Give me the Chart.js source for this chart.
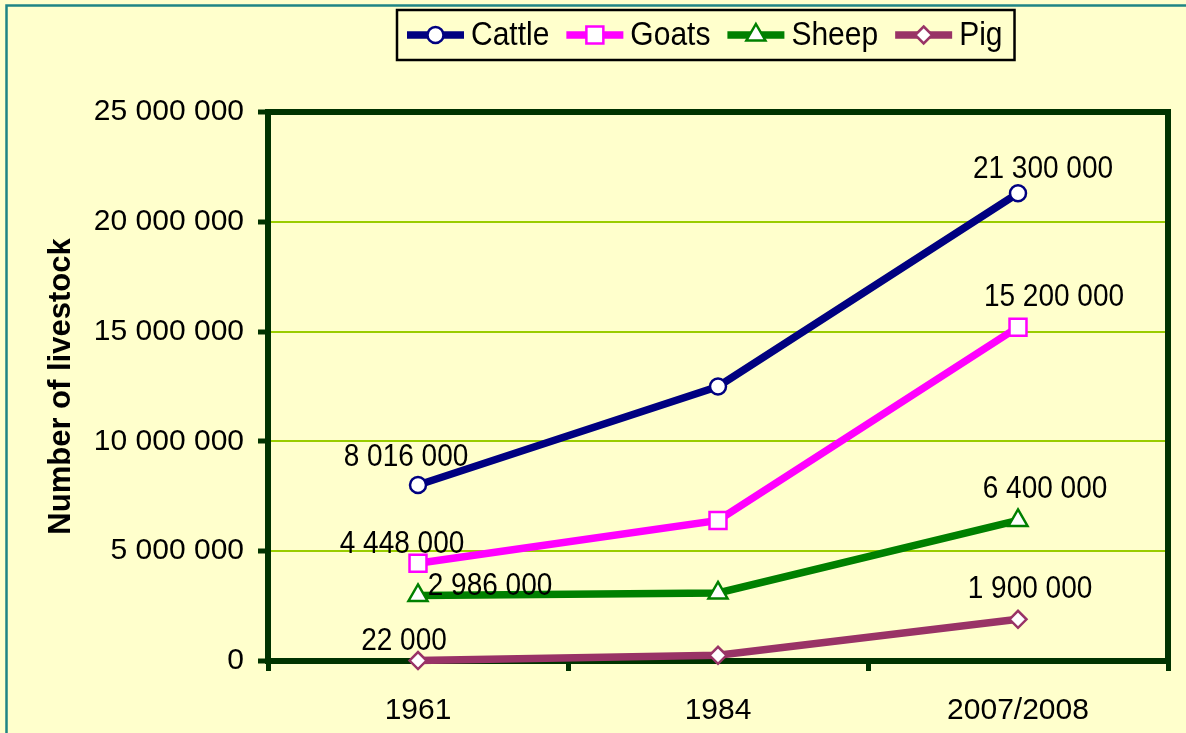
<!DOCTYPE html>
<html>
<head>
<meta charset="utf-8">
<script src="https://cdn.jsdelivr.net/npm/chart.js@4/dist/chart.umd.min.js"></script>
<style>
  html, body { margin: 0; padding: 0; background: #FFFFCC; }
  canvas { display: block; }
</style>
</head>
<body>
<canvas id="livestock-chart" width="1186" height="733"></canvas>
<script>
// values
const years = ['1961', '1984', '2007/2008'];
const cattle = [8016000, 12500000, 21300000];
const goats = [4448000, 6400000, 15200000];
const sheep = [2986000, 3100000, 6400000];
const pig = [22000, 260000, 1900000];
const yTicks = [0, 5000000, 10000000, 15000000, 20000000, 25000000];
const yTitle = 'Number of livestock';

const FONT = '"Liberation Sans", Arial, sans-serif';

// where each value label sits relative to its point: [first, last] as [dx, dy]
const labelOffsets = [
    [[-12, -27], [25, -24]],
    [[-16, -19], [36, -30]],
    [[72, -9], [27, -31]],
    [[-14, -19], [12, -30]]
];

function fmt(n) {
    return String(n).replace(/\B(?=(\d{3})+(?!\d))/g, ' ');
}

function marker(ctx, style, x, y, r, color) {
    ctx.save();
    ctx.fillStyle = '#ffffff';
    ctx.strokeStyle = color;
    ctx.lineWidth = 2.5;
    ctx.beginPath();
    if (style === 'circle') {
        ctx.arc(x, y, r, 0, Math.PI * 2);
    } else if (style === 'rect') {
        const s = r * Math.SQRT1_2;
        ctx.rect(x - s, y - s, s * 2, s * 2);
    } else if (style === 'triangle') {
        ctx.moveTo(x, y - r);
        ctx.lineTo(x + r * 0.866, y + r * 0.5);
        ctx.lineTo(x - r * 0.866, y + r * 0.5);
        ctx.closePath();
    } else {
        ctx.moveTo(x, y - r);
        ctx.lineTo(x + r, y);
        ctx.lineTo(x, y + r);
        ctx.lineTo(x - r, y);
        ctx.closePath();
    }
    ctx.fill();
    ctx.stroke();
    ctx.restore();
}

// text in the reference is drawn a bit taller than it is wide
function tallText(ctx, text, x, y) {
    ctx.save();
    ctx.translate(x, y);
    ctx.scale(1, 1.1);
    ctx.fillText(text, 0, 0);
    ctx.restore();
}

const decorPlugin = {
    id: 'decor',
    beforeDraw(chart) {
        const ctx = chart.ctx;
        ctx.save();
        ctx.fillStyle = '#FFFFCC';
        ctx.fillRect(0, 0, chart.width, chart.height);
        // outer chart border (only top and left visible)
        ctx.strokeStyle = '#1F8585';
        ctx.lineWidth = 2.5;
        ctx.beginPath();
        ctx.moveTo(6.5, chart.height);
        ctx.lineTo(6.5, 5.5);
        ctx.lineTo(chart.width, 5.5);
        ctx.stroke();
        // y axis title
        ctx.translate(70, (chart.chartArea.top + chart.chartArea.bottom) / 2);
        ctx.rotate(-Math.PI / 2);
        ctx.fillStyle = '#000';
        ctx.font = 'bold 31px ' + FONT;
        ctx.textAlign = 'center';
        ctx.textBaseline = 'alphabetic';
        ctx.fillText(yTitle, 0, 0);
        ctx.restore();
    },
    beforeDatasetsDraw(chart) {
        const { ctx, chartArea: a } = chart;
        ctx.save();
        ctx.strokeStyle = '#003300';
        ctx.lineWidth = 6;
        ctx.strokeRect(a.left, a.top, a.right - a.left, a.bottom - a.top);
        ctx.restore();
    },
    afterDatasetsDraw(chart) {
        const ctx = chart.ctx;
        ctx.save();
        ctx.fillStyle = '#000';
        ctx.font = '28px ' + FONT;
        ctx.textAlign = 'center';
        ctx.textBaseline = 'middle';
        chart.data.datasets.forEach((ds, i) => {
            const pts = chart.getDatasetMeta(i).data;
            [0, pts.length - 1].forEach((idx, k) => {
                const off = labelOffsets[i][k];
                tallText(ctx, fmt(ds.data[idx]), pts[idx].x + off[0], pts[idx].y + off[1]);
            });
        });

        // legend
        ctx.font = '30px ' + FONT;
        ctx.textAlign = 'left';
        const cy = 35;
        let x = 407;
        const start = x;
        chart.data.datasets.forEach(ds => {
            ctx.strokeStyle = ds.borderColor;
            ctx.lineWidth = 7.5;
            ctx.beginPath();
            ctx.moveTo(x, cy);
            ctx.lineTo(x + 57, cy);
            ctx.stroke();
            marker(ctx, ds.pointStyle, x + 28.5, cy, ds.pointRadius, ds.borderColor);
            ctx.fillStyle = '#000';
            tallText(ctx, ds.label, x + 64, cy + 1);
            x += 64 + ctx.measureText(ds.label).width + 17;
        });
        ctx.strokeStyle = '#000';
        ctx.lineWidth = 2.5;
        ctx.strokeRect(start - 10, 10, x - 17 + 12 - (start - 10), 50);
        ctx.restore();
    }
};

function series(label, data, color, style, radius) {
    return {
        label: label,
        data: data,
        borderColor: color,
        backgroundColor: color,
        borderWidth: 7.5,
        pointStyle: style,
        pointRadius: radius,
        pointHoverRadius: radius,
        pointBorderColor: color,
        pointBackgroundColor: '#ffffff',
        pointBorderWidth: 2.5,
        tension: 0,
        clip: false
    };
}

new Chart(document.getElementById('livestock-chart'), {
    type: 'line',
    data: {
        labels: years,
        datasets: [
            series('Cattle', cattle, '#000080', 'circle', 8),
            series('Goats', goats, '#FF00FF', 'rect', 12),
            series('Sheep', sheep, '#008000', 'triangle', 11),
            series('Pig', pig, '#993366', 'rectRot', 8.5)
        ]
    },
    options: {
        responsive: false,
        animation: false,
        events: [],
        layout: { padding: { top: 112, right: 18, left: 0, bottom: 0 } },
        plugins: {
            legend: { display: false },
            tooltip: { enabled: false }
        },
        scales: {
            x: {
                offset: true,
                grid: {
                    offset: true,
                    drawOnChartArea: false,
                    tickColor: '#003300',
                    tickWidth: 5,
                    tickLength: 10
                },
                border: { display: false },
                ticks: {
                    color: '#000',
                    font: { family: FONT, size: 30 },
                    padding: 22
                },
                afterFit: scale => { scale.height = 72; }
            },
            y: {
                min: 0,
                max: 25000000,
                afterBuildTicks: scale => {
                    scale.ticks = yTicks.map(v => ({ value: v }));
                },
                grid: {
                    color: '#99CC00',
                    lineWidth: 2,
                    tickColor: '#003300',
                    tickWidth: 5,
                    tickLength: 10
                },
                border: { display: false },
                ticks: {
                    color: '#000',
                    font: { family: FONT, size: 30 },
                    padding: 14,
                    callback: v => fmt(v)
                },
                afterFit: scale => { scale.width = 268; }
            }
        }
    },
    plugins: [decorPlugin]
});
</script>
</body>
</html>
